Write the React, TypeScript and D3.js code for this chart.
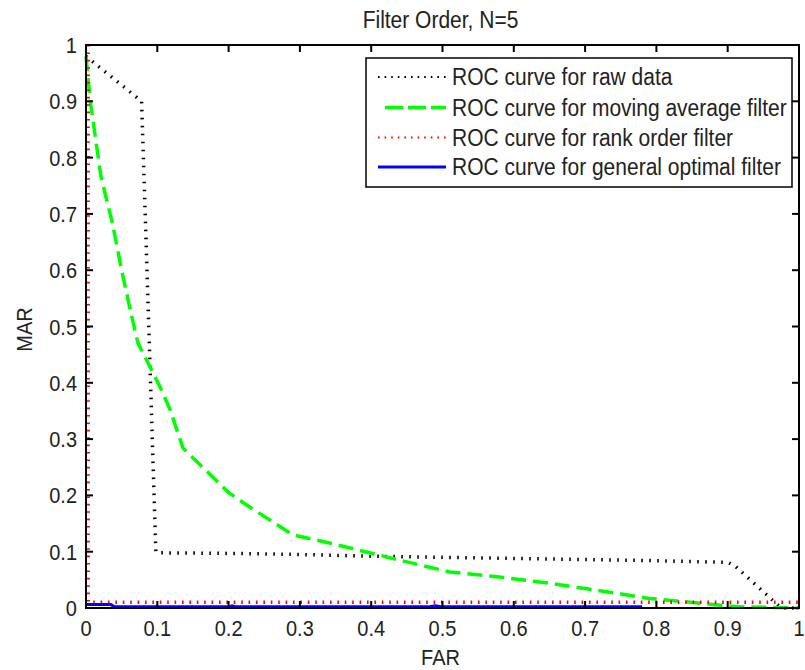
import React from "react";
import * as d3 from "d3";

const titleText = "Filter Order, N=5";
const xLabel = "FAR";
const yLabel = "MAR";
const ticks = [0, 0.1, 0.2, 0.3, 0.4, 0.5, 0.6, 0.7, 0.8, 0.9, 1];

const rawFar = [0, 0.078, 0.098, 0.1, 0.2, 0.3, 0.4, 0.5, 0.6, 0.7, 0.8, 0.9, 0.91, 0.975, 1];
const rawMar = [0.98, 0.9, 0.1, 0.098, 0.097, 0.095, 0.092, 0.09, 0.088, 0.086, 0.084, 0.081, 0.075, 0, 0];

const maFar = [0, 0.006, 0.021, 0.037, 0.05, 0.063, 0.073, 0.09, 0.106, 0.118, 0.136, 0.2, 0.23, 0.29, 0.34, 0.44, 0.51, 0.58, 0.65, 0.73, 0.79, 0.85, 0.89, 0.92, 0.96, 1];
const maMar = [0.98, 0.9, 0.766, 0.684, 0.6, 0.524, 0.47, 0.428, 0.387, 0.352, 0.284, 0.205, 0.179, 0.13, 0.116, 0.085, 0.064, 0.055, 0.044, 0.029, 0.017, 0.01, 0.005, 0.002, 0.001, 0];

const rankFar = [0.003, 0.003, 1];
const rankMar = [1, 0.01, 0.01];

const optFar = [0, 0.035, 0.04, 0.2, 0.205, 0.21, 0.48, 0.49, 0.5, 0.78];
const optMar = [0.006, 0.006, 0.002, 0.002, 0.004, 0.002, 0.002, 0.004, 0.002, 0.002];

const legendLabels = [
  "ROC curve for raw data",
  "ROC curve for moving average filter",
  "ROC curve for rank order filter",
  "ROC curve for general optimal filter",
];

const W = 805;
const H = 670;
const left = 86;
const right = 799;
const top = 45;
const bottom = 608;
const font = "Liberation Sans, Arial, Helvetica, sans-serif";
const sy = 1.1;

function T(props: { x: number; y: number; size: number; anchor?: string; rotate?: number; children: React.ReactNode }) {
  const { x, y, size, anchor, rotate, children } = props;
  return (
    <text
      transform={`translate(${x},${y})${rotate ? ` rotate(${rotate})` : ""} scale(1,${sy})`}
      textAnchor={anchor || "start"}
      fontSize={size}
      fill="#222"
    >
      {children}
    </text>
  );
}

export default function App() {
  const x = d3.scaleLinear().domain([0, 1]).range([left, right]);
  const y = d3.scaleLinear().domain([0, 1]).range([bottom, top]);
  const line = d3
    .line<[number, number]>()
    .x((d) => x(d[0]))
    .y((d) => y(d[1]));
  const zip = (a: number[], b: number[]) => a.map((v, i) => [v, b[i]] as [number, number]);

  const series = [
    { far: rawFar, mar: rawMar, color: "#000", width: 3.5, dash: "1.6 6.4", lw: 2, ldash: "1.6 5" },
    { far: maFar, mar: maMar, color: "#00ff00", width: 3.5, dash: "15 7", lw: 3.5, ldash: "18 5" },
    { far: rankFar, mar: rankMar, color: "#ff0000", width: 3.5, dash: "1.6 5.8", lw: 2, ldash: "1.6 5" },
    { far: optFar, mar: optMar, color: "#0000ff", width: 3, dash: "", lw: 3, ldash: "" },
  ];

  const tickLen = 7;
  const legX0 = 366;
  const legY0 = 58;
  const legW = 426;
  const legH = 129;
  const rowY = [77, 107.5, 137.5, 167];

  return (
    <svg
      width={W}
      height={H}
      style={{ position: "absolute", left: 0, top: 0, background: "#fff" }}
      fontFamily={font}
    >
      <rect x={0} y={0} width={W} height={H} fill="#fff" />
      <g>
        {series.map((s, i) => (
          <path
            key={i}
            d={line(zip(s.far, s.mar)) || ""}
            fill="none"
            stroke={s.color}
            strokeWidth={s.width}
            strokeDasharray={s.dash || undefined}
          />
        ))}
      </g>
      <rect x={left} y={top} width={right - left} height={bottom - top} fill="none" stroke="#000" strokeWidth={2} />
      {ticks.map((t, i) => (
        <g key={"xt" + i}>
          <line x1={x(t)} x2={x(t)} y1={bottom} y2={bottom - tickLen} stroke="#000" strokeWidth={2} />
          <line x1={x(t)} x2={x(t)} y1={top} y2={top + tickLen} stroke="#000" strokeWidth={2} />
          <T x={x(t)} y={636} size={20} anchor="middle">
            {String(t)}
          </T>
        </g>
      ))}
      {ticks.map((t, i) => (
        <g key={"yt" + i}>
          <line x1={left} x2={left + tickLen} y1={y(t)} y2={y(t)} stroke="#000" strokeWidth={2} />
          <line x1={right} x2={right - tickLen} y1={y(t)} y2={y(t)} stroke="#000" strokeWidth={2} />
          <T x={77} y={y(t) + 8} size={20} anchor="end">
            {String(t)}
          </T>
        </g>
      ))}
      <T x={(left + right) / 2 - 2} y={28} size={21} anchor="middle">
        {titleText}
      </T>
      <T x={(left + right) / 2 - 2} y={665} size={20} anchor="middle">
        {xLabel}
      </T>
      <T x={32} y={(top + bottom) / 2 + 3} size={20} anchor="middle" rotate={-90}>
        {yLabel}
      </T>
      <rect x={legX0} y={legY0} width={legW} height={legH} fill="#fff" stroke="#000" strokeWidth={1.5} />
      {series.map((s, i) => (
        <g key={"lg" + i}>
          <line
            x1={i === 1 ? 385 : 378}
            x2={446}
            y1={rowY[i]}
            y2={rowY[i]}
            stroke={s.color}
            strokeWidth={s.lw}
            strokeDasharray={s.ldash || undefined}
          />
          <T x={452} y={rowY[i] + 8} size={21}>
            {legendLabels[i]}
          </T>
        </g>
      ))}
    </svg>
  );
}
